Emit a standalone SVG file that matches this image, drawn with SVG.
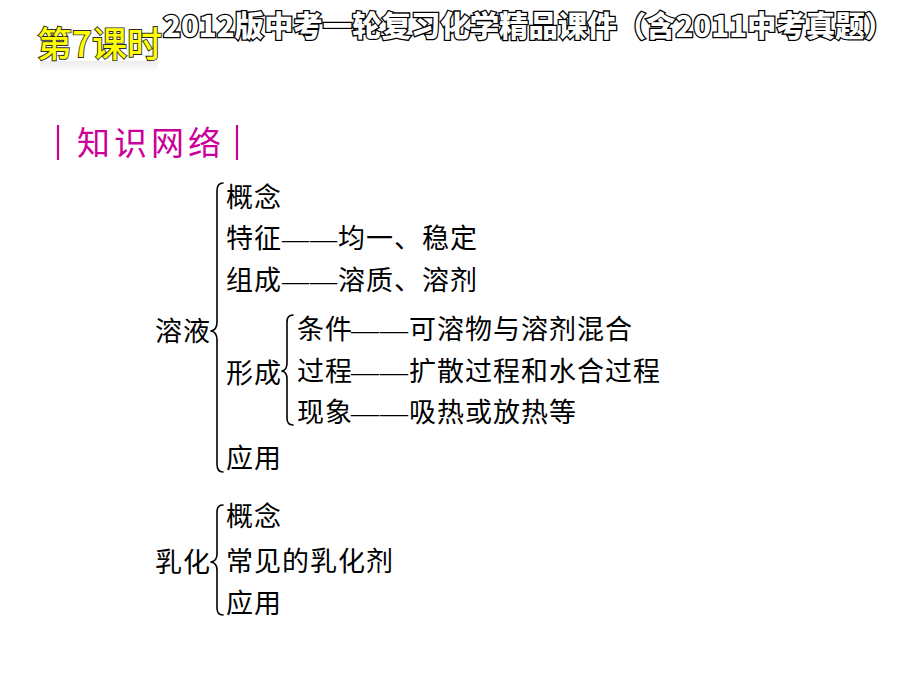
<svg xmlns="http://www.w3.org/2000/svg" width="920" height="690" viewBox="0 0 920 690">
  <defs>
    <style>
      .t { font-family: "Liberation Serif", "Noto Sans CJK SC", serif; font-size: 27px; letter-spacing: 1px; fill: #000; }
      .brace { fill: none; stroke: #000; stroke-width: 1.6; stroke-linecap: round; stroke-linejoin: round; }
      .hdr { font-family: "Noto Sans CJK SC", sans-serif; font-weight: 900; font-size: 29px; fill: #fff; stroke: #000; stroke-width: 2.6; paint-order: stroke; }
      .lesson { font-family: "Noto Sans CJK SC", sans-serif; font-weight: 500; font-size: 35px; fill: #ffff00; stroke: #2a2a2a; stroke-width: 1.8; paint-order: stroke; }
      .sec { font-family: "Noto Sans CJK SC", sans-serif; font-size: 33px; fill: #cc0099; }
      .bar { stroke: #cc0099; stroke-width: 2.2; }
    </style>
    <linearGradient id="refl" x1="0" y1="0" x2="0" y2="1">
      <stop offset="0" stop-color="#aaa" stop-opacity="0.22"/>
      <stop offset="1" stop-color="#aaa" stop-opacity="0"/>
    </linearGradient>
  </defs>
  <rect width="920" height="690" fill="#fff"/>

  <g id="header">
    <rect x="40" y="61" width="118" height="11" fill="url(#refl)"/>
    <text class="lesson" x="37" y="57">第7课时</text>
    <text class="hdr" x="163" y="37" textLength="731" lengthAdjust="spacingAndGlyphs">2012版中考一轮复习化学精品课件（含2011中考真题）</text>
  </g>

  <g id="section-title">
    <line class="bar" x1="58" y1="125" x2="58" y2="160"/>
    <text class="sec" x="77" y="155" textLength="144" lengthAdjust="spacing">知识网络</text>
    <line class="bar" x1="237" y1="125" x2="237" y2="160"/>
  </g>

  <g id="connectors">
    <path class="brace" d="M223,183 Q217,183 217,191 L217,322 Q217,330 211,331 Q217,332 217,340 L217,464 Q217,472 223,472"/>
    <path class="brace" d="M293,315 Q287,315 287,322 L287,363 Q287,370 282,371 Q287,372 287,379 L287,418 Q287,425 293,425"/>
    <path class="brace" d="M223,505 Q217,505 217,512 L217,554 Q217,561 211,562 Q217,563 217,570 L217,608 Q217,615 223,615"/>
  </g>

  <g id="node-rongye"><text class="t" x="155" y="341">溶液</text></g>
  <g id="node-gainian1"><text class="t" x="226" y="207">概念</text></g>
  <g id="node-tezheng"><text class="t" y="248"><tspan x="226">特征</tspan><tspan x="282" textLength="56" lengthAdjust="spacingAndGlyphs">——</tspan><tspan x="338">均一、稳定</tspan></text></g>
  <g id="node-zucheng"><text class="t" y="290"><tspan x="226">组成</tspan><tspan x="282" textLength="56" lengthAdjust="spacingAndGlyphs">——</tspan><tspan x="338">溶质、溶剂</tspan></text></g>
  <g id="node-xingcheng"><text class="t" x="226" y="383">形成</text></g>
  <g id="node-tiaojian"><text class="t" y="339"><tspan x="297">条件</tspan><tspan x="351" textLength="58" lengthAdjust="spacingAndGlyphs">——</tspan><tspan x="409">可溶物与溶剂混合</tspan></text></g>
  <g id="node-guocheng"><text class="t" y="381"><tspan x="297">过程</tspan><tspan x="351" textLength="58" lengthAdjust="spacingAndGlyphs">——</tspan><tspan x="409">扩散过程和水合过程</tspan></text></g>
  <g id="node-xianxiang"><text class="t" y="422"><tspan x="297">现象</tspan><tspan x="351" textLength="58" lengthAdjust="spacingAndGlyphs">——</tspan><tspan x="409">吸热或放热等</tspan></text></g>
  <g id="node-yingyong1"><text class="t" x="226" y="468">应用</text></g>

  <g id="node-ruhua"><text class="t" x="155" y="572">乳化</text></g>
  <g id="node-gainian2"><text class="t" x="226" y="526">概念</text></g>
  <g id="node-changjian"><text class="t" x="226" y="571">常见的乳化剂</text></g>
  <g id="node-yingyong2"><text class="t" x="226" y="613">应用</text></g>
</svg>
